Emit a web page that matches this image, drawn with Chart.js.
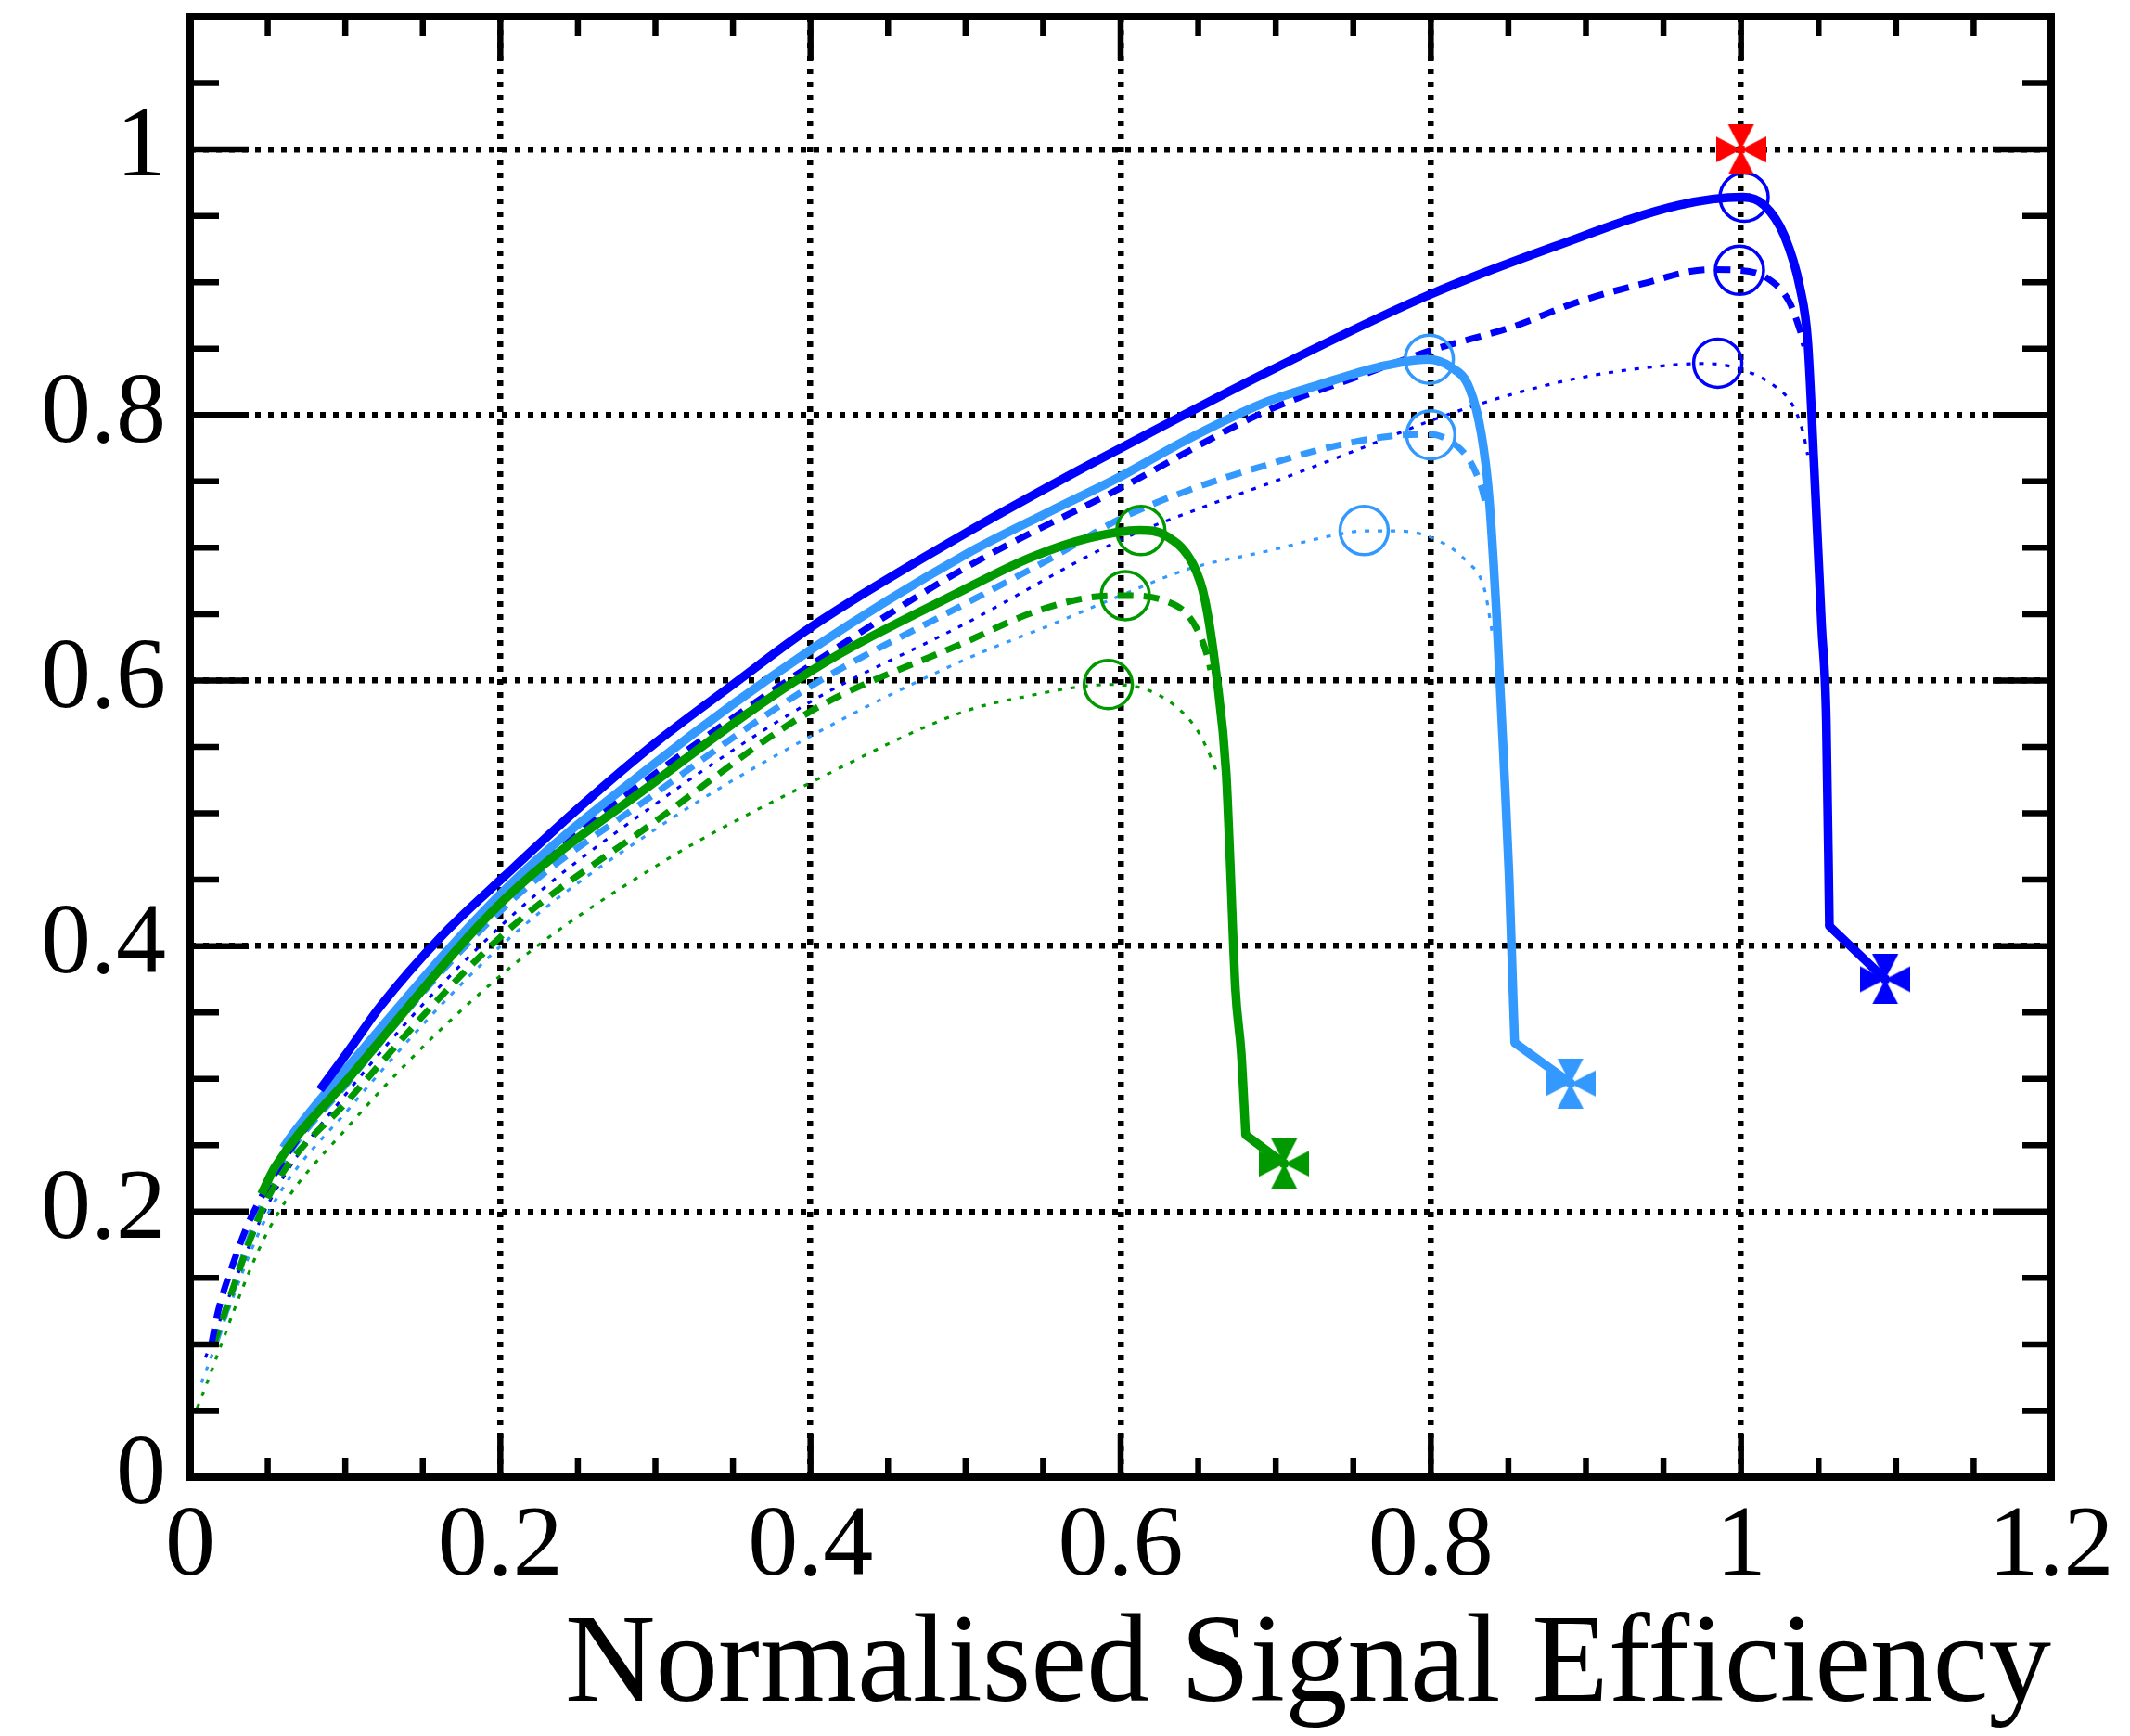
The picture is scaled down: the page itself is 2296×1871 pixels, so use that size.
<!DOCTYPE html>
<html>
<head>
<meta charset="utf-8">
<script src="https://cdn.jsdelivr.net/npm/chart.js@4.4.1/dist/chart.umd.min.js"></script>
<style>
  html, body { margin: 0; padding: 0; background: #fff; }
  canvas { display: block; }
</style>
</head>
<body>
<canvas id="roc" width="2296" height="1871"></canvas>
<script>
// curves, [efficiency, rejection]
const blueSolid = [[0.0837,0.2918],[0.1027,0.322],[0.1226,0.3546],[0.1625,0.408],[0.2024,0.4523],[0.2522,0.5057],[0.30,0.553],[0.35,0.597],[0.40,0.640],[0.50,0.711],[0.563,0.752],[0.60,0.775],[0.694,0.832],[0.798,0.890],[0.880,0.927],[0.960,0.958],[1.001,0.964],[1.015,0.958],[1.028,0.935],[1.038,0.896],[1.043,0.856],[1.047,0.765],[1.052,0.641],[1.055,0.570],[1.057,0.415]];
const blueTail = [[1.057,0.415],[1.093,0.375]];
const blueDashed = [[0.0137,0.100],[0.0178,0.124],[0.0279,0.1616],[0.0406,0.199],[0.1027,0.3058],[0.2024,0.441],[0.30,0.530],[0.40,0.6115],[0.50,0.685],[0.60,0.745],[0.694,0.803],[0.753,0.829],[0.801,0.849],[0.853,0.8665],[0.892,0.884],[0.937,0.899],[0.979,0.9095],[0.999,0.909],[1.017,0.903],[1.031,0.8855],[1.038,0.864],[1.041,0.852]];
const blueDotted = [[0.0098,0.090],[0.05,0.205],[0.1027,0.2918],[0.2024,0.4174],[0.30,0.507],[0.40,0.584],[0.50,0.643],[0.60,0.706],[0.654,0.731],[0.704,0.752],[0.753,0.774],[0.803,0.797],[0.850,0.8148],[0.896,0.828],[0.942,0.836],[0.976,0.8388],[0.999,0.8348],[1.022,0.8215],[1.033,0.808],[1.040,0.787],[1.043,0.770]];
const skySolid = [[0.060,0.248],[0.0668,0.2593],[0.1027,0.3104],[0.2024,0.4418],[0.30,0.538],[0.40,0.623],[0.50,0.695],[0.555,0.7277],[0.60,0.7537],[0.642,0.781],[0.6915,0.8087],[0.7287,0.823],[0.766,0.836],[0.798,0.842],[0.813,0.836],[0.825,0.820],[0.8326,0.7855],[0.8375,0.739],[0.8425,0.6467],[0.8474,0.531],[0.8504,0.4545],[0.8529,0.3677],[0.8541,0.3272]];
const skyTail = [[0.8541,0.3272],[0.8901,0.2968]];
const skyDashed = [[0.016,0.100],[0.05,0.215],[0.1027,0.2988],[0.2024,0.429],[0.30,0.515],[0.40,0.5956],[0.50,0.658],[0.555,0.692],[0.60,0.722],[0.6444,0.7436],[0.6939,0.7623],[0.7336,0.7754],[0.7733,0.784],[0.7993,0.7855],[0.8154,0.778],[0.8254,0.765],[0.8328,0.745],[0.835,0.735]];
const skyDotted = [[0.0072,0.071],[0.05,0.198],[0.1027,0.2779],[0.2024,0.4023],[0.30,0.488],[0.40,0.558],[0.50,0.616],[0.555,0.642],[0.60,0.664],[0.6444,0.6843],[0.6939,0.6973],[0.7411,0.7103],[0.7568,0.7127],[0.7783,0.7127],[0.8006,0.7075],[0.8229,0.690],[0.8345,0.669],[0.839,0.640],[0.840,0.632]];
const greenSolid = [[0.0459,0.213],[0.0548,0.2337],[0.1027,0.3011],[0.2024,0.4348],[0.30,0.524],[0.40,0.607],[0.50,0.669],[0.5427,0.693],[0.5799,0.7075],[0.6122,0.7132],[0.6295,0.7088],[0.6469,0.687],[0.6543,0.661],[0.6618,0.6033],[0.668,0.531],[0.6704,0.469],[0.674,0.3677],[0.6778,0.3186],[0.6806,0.2578]];
const greenTail = [[0.6806,0.2578],[0.7054,0.2361]];
const greenDashed = [[0.015,0.100],[0.05,0.210],[0.1027,0.2849],[0.2024,0.4093],[0.30,0.494],[0.40,0.5768],[0.50,0.629],[0.5427,0.651],[0.5799,0.6626],[0.6035,0.664],[0.6295,0.6597],[0.6431,0.6496],[0.6518,0.6323],[0.6567,0.615],[0.658,0.608]];
const greenDotted = [[0.0045,0.052],[0.05,0.185],[0.1027,0.2651],[0.2024,0.380],[0.30,0.460],[0.40,0.523],[0.50,0.577],[0.5427,0.5889],[0.570,0.5947],[0.5923,0.597],[0.6146,0.594],[0.6344,0.5816],[0.6493,0.5628],[0.658,0.5426],[0.663,0.528]];

// open circles at the best working points
const blueCircles = [[1.002,0.964],[0.999,0.909],[0.985,0.839]];
const skyCircles = [[0.799,0.842],[0.800,0.785],[0.757,0.713]];
const greenCircles = [[0.613,0.713],[0.603,0.664],[0.592,0.597]];

// cross markers
const refPoint = [[1.0,1.0]];
const blueEnd = [[1.093,0.375]];
const skyEnd = [[0.890,0.2965]];
const greenEnd = [[0.7054,0.2361]];

const BLUE = '#0000ff', SKY = '#3399ff', GREEN = '#009900', RED = '#ff0000';
const SERIF = '"Liberation Serif", "Times New Roman", serif';

const pts = arr => arr.map(([x, y]) => ({ x, y }));

function crossMarker(color) {
  const s = 54, h = s / 2, w = 14;
  const c = document.createElement('canvas');
  c.width = c.height = s;
  const g = c.getContext('2d');
  g.fillStyle = color;
  g.beginPath();
  g.moveTo(h, h); g.lineTo(h - w, 0); g.lineTo(h + w, 0); g.closePath();
  g.moveTo(h, h); g.lineTo(h - w, s); g.lineTo(h + w, s); g.closePath();
  g.moveTo(h, h); g.lineTo(0, h - w); g.lineTo(0, h + w); g.closePath();
  g.moveTo(h, h); g.lineTo(s, h - w); g.lineTo(s, h + w); g.closePath();
  g.fill();
  g.fillRect(h - 4, h - 4, 8, 8);
  return c;
}

function marker(data, color) {
  return { type: 'scatter', data: pts(data), pointStyle: crossMarker(color), pointRadius: 27, showLine: false };
}

function circles(data, color) {
  return {
    type: 'scatter', data: pts(data), pointStyle: 'circle', pointRadius: 26,
    backgroundColor: 'rgba(0,0,0,0)', borderColor: color, pointBorderWidth: 3.5, showLine: false
  };
}

function curve(data, color, style) {
  const d = {
    type: 'line', data: pts(data), borderColor: color, pointRadius: 0,
    cubicInterpolationMode: 'monotone', fill: false, borderCapStyle: 'butt', borderJoinStyle: 'round'
  };
  if (style === 'solid') d.borderWidth = 9.5;
  if (style === 'dashed') { d.borderWidth = 7; d.borderDash = [17, 11]; }
  if (style === 'dotted') { d.borderWidth = 3.2; d.borderDash = [5, 9]; }
  return d;
}

// straight last leg from the kink to the end marker
function tail(data, color) {
  return { type: 'line', data: pts(data), borderColor: color, borderWidth: 9.5, pointRadius: 0, tension: 0, fill: false, borderCapStyle: 'round' };
}

// inward ticks on all four sides plus the heavy frame
const frame = {
  id: 'frame',
  afterDatasetsDraw(chart) {
    const { ctx, chartArea: a, scales: { x, y } } = chart;
    ctx.save();
    ctx.strokeStyle = '#000';
    ctx.lineWidth = 6.5;
    ctx.beginPath();
    for (let i = 0; i <= 24; i++) {
      const px = x.getPixelForValue(i * 0.05);
      const len = i % 4 === 0 ? 47 : 21;
      ctx.moveTo(px, a.bottom); ctx.lineTo(px, a.bottom - len);
      ctx.moveTo(px, a.top); ctx.lineTo(px, a.top + len);
    }
    for (let i = 0; i <= 22; i++) {
      const py = y.getPixelForValue(i * 0.05);
      const len = i % 4 === 0 ? 63 : 31;
      ctx.moveTo(a.left, py); ctx.lineTo(a.left + len, py);
      ctx.moveTo(a.right, py); ctx.lineTo(a.right - len, py);
    }
    ctx.stroke();
    ctx.lineWidth = 8;
    ctx.strokeRect(a.left, a.top, a.right - a.left, a.bottom - a.top);
    ctx.restore();
  }
};

const fmtTick = v => String(Number(v.toFixed(1)));

new Chart(document.getElementById('roc'), {
  data: {
    datasets: [
      marker(refPoint, RED),
      marker(blueEnd, BLUE),
      marker(skyEnd, SKY),
      marker(greenEnd, GREEN),
      circles(blueCircles, BLUE),
      circles(skyCircles, SKY),
      circles(greenCircles, GREEN),
      tail(greenTail, GREEN),
      tail(blueTail, BLUE),
      tail(skyTail, SKY),
      curve(greenSolid, GREEN, 'solid'),
      curve(blueSolid, BLUE, 'solid'),
      curve(skySolid, SKY, 'solid'),
      curve(blueDashed, BLUE, 'dashed'),
      curve(greenDashed, GREEN, 'dashed'),
      curve(skyDashed, SKY, 'dashed'),
      curve(blueDotted, BLUE, 'dotted'),
      curve(skyDotted, SKY, 'dotted'),
      curve(greenDotted, GREEN, 'dotted')
    ]
  },
  options: {
    responsive: false,
    animation: false,
    devicePixelRatio: 1,
    layout: { autoPadding: false, padding: { top: 18, right: 85, left: 0, bottom: 0 } },
    plugins: { legend: { display: false }, tooltip: { enabled: false } },
    scales: {
      x: {
        type: 'linear', min: 0, max: 1.2,
        grid: { color: '#000', lineWidth: 6.5, drawTicks: false },
        border: { display: false, dash: [6, 8] },
        ticks: {
          stepSize: 0.2, autoSkip: false, maxRotation: 0, padding: 12, color: '#000',
          font: { family: SERIF, size: 108 }, callback: fmtTick
        },
        title: {
          display: true, text: 'Normalised Signal Efficiency', align: 'end', color: '#000',
          font: { family: SERIF, size: 135, lineHeight: 1 }, padding: { top: 0, bottom: 6 }
        },
        afterFit: s => { s.height = 279; s.paddingLeft = 0; s.paddingRight = 0; }
      },
      y: {
        type: 'linear', min: 0, max: 1.1,
        grid: { color: '#000', lineWidth: 6.5, drawTicks: false },
        border: { display: false, dash: [6, 8] },
        ticks: {
          stepSize: 0.2, includeBounds: false, autoSkip: false, padding: 26, color: '#000',
          font: { family: SERIF, size: 108 }, callback: fmtTick
        },
        afterFit: s => { s.width = 205; s.paddingTop = 0; s.paddingBottom = 0; }
      }
    }
  },
  plugins: [frame]
});
</script>
</body>
</html>
